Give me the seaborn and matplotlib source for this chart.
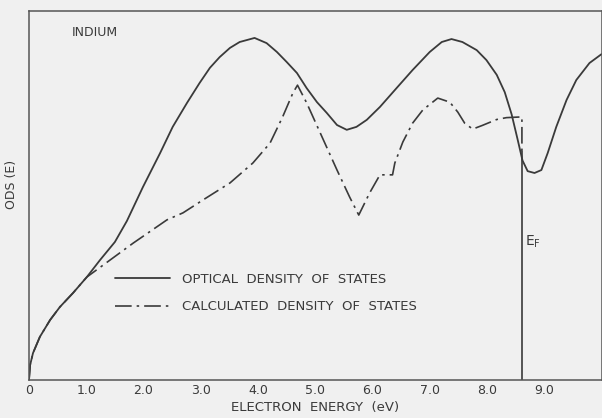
import numpy as np
import pandas as pd
import matplotlib
matplotlib.use("Agg")
import matplotlib.pyplot as plt
import seaborn as sns

# values (energy in eV, ODS in arbitrary units)
optical_e = [0.00, 0.02, 0.07, 0.19, 0.37, 0.54, 0.77, 1.01, 1.24, 1.50, 1.71, 1.99,
             2.29, 2.51, 2.76, 2.98, 3.16, 3.33, 3.51, 3.68, 3.94, 4.15, 4.33, 4.50,
             4.68, 4.85, 5.03, 5.20, 5.38, 5.55, 5.72, 5.90, 6.13, 6.42, 6.70, 7.00,
             7.21, 7.38, 7.57, 7.82, 7.99, 8.17, 8.31, 8.43, 8.53, 8.62, 8.71, 8.83,
             8.95, 9.06, 9.21, 9.39, 9.56, 9.79, 10.0]
optical_ods = [0.000, 0.041, 0.073, 0.117, 0.163, 0.198, 0.236, 0.279, 0.325, 0.374,
               0.431, 0.523, 0.615, 0.686, 0.751, 0.805, 0.846, 0.875, 0.900, 0.916,
               0.927, 0.913, 0.889, 0.862, 0.832, 0.791, 0.753, 0.724, 0.691, 0.678,
               0.686, 0.705, 0.740, 0.791, 0.840, 0.889, 0.916, 0.924, 0.916, 0.894,
               0.867, 0.827, 0.780, 0.720, 0.655, 0.595, 0.566, 0.561, 0.569, 0.615,
               0.686, 0.759, 0.813, 0.859, 0.883]

calc_e = [1.01, 1.82, 2.41, 2.69, 3.04, 3.51, 3.91, 4.21, 4.43, 4.61, 4.69, 4.85,
          5.08, 5.38, 5.60, 5.76, 5.95, 6.13, 6.35, 6.39, 6.53, 6.70, 6.88, 7.14,
          7.35, 7.49, 7.61, 7.75, 7.92, 8.17, 8.34, 8.61, 8.61]
calc_ods = [0.279, 0.371, 0.434, 0.453, 0.488, 0.534, 0.588, 0.642, 0.713, 0.778,
            0.799, 0.751, 0.672, 0.569, 0.496, 0.447, 0.507, 0.556, 0.556, 0.588,
            0.645, 0.696, 0.732, 0.764, 0.753, 0.726, 0.696, 0.680, 0.690, 0.706,
            0.711, 0.713, 0.620]

EF = 8.61
x_ticks = [0, 1, 2, 3, 4, 5, 6, 7, 8, 9]
x_labels = ["0", "1.0", "2.0", "3.0", "4.0", "5.0", "6.0", "7.0", "8.0", "9.0"]

# calculated curve coincides with the optical one below 1 eV
low = [i for i, e in enumerate(optical_e) if e < 1.01]
calc_full = pd.DataFrame({
    "e": [optical_e[i] for i in low] + calc_e,
    "ods": [optical_ods[i] for i in low] + calc_ods,
})
optical = pd.DataFrame({"e": optical_e, "ods": optical_ods})

sns.set_style("white")
plt.rcParams["font.family"] = ["DejaVu Sans"]
bg = "#f0f0f0"
ink = "#3a3a3a"

fig = plt.figure(figsize=(6.02, 4.18), dpi=100, facecolor=bg)
ax = fig.add_axes([29 / 602, 38 / 418, 572.5 / 602, 369 / 418])
ax.set_facecolor(bg)

sns.lineplot(data=optical, x="e", y="ods", sort=False, estimator=None,
             color=ink, lw=1.3, ax=ax, label="OPTICAL  DENSITY  OF  STATES")
sns.lineplot(data=calc_full, x="e", y="ods", sort=False, estimator=None,
             color=ink, lw=1.2, ax=ax, label="CALCULATED  DENSITY  OF  STATES",
             linestyle=(0, (10, 3, 1.5, 3)))
ax.vlines(EF, 0, 0.62, color=ink, lw=1.2)

ax.set_xlim(0, 10.0)
ax.set_ylim(0, 1)
ax.set_xticks(x_ticks)
ax.set_xticklabels(x_labels)
ax.set_yticks([])
ax.tick_params(axis="x", direction="in", length=5, width=0.9, color=ink,
               labelsize=9, labelcolor=ink, pad=3)
for s in ax.spines.values():
    s.set_color("#555555")
    s.set_linewidth(1.1)

ax.set_xlabel("ELECTRON  ENERGY  (eV)", fontsize=9.5, color=ink, labelpad=3)
ax.set_ylabel("ODS (E)", fontsize=9, color=ink)
ax.yaxis.set_label_coords(-0.019, 0.531)

ax.text(0.75, 0.943, "INDIUM", fontsize=9, color=ink, ha="left", va="center")
ax.text(EF + 0.06, 0.374, r"E$_\mathrm{F}$", fontsize=10, color=ink,
        ha="left", va="center")

leg = ax.legend(loc="center left", bbox_to_anchor=(0.150, 0.236), frameon=False,
                fontsize=9.5, handlelength=4.2, handletextpad=0.9,
                labelspacing=1.1, borderpad=0, borderaxespad=0)
for t in leg.get_texts():
    t.set_color(ink)

fig.savefig("out.png", dpi=100, facecolor=bg)
